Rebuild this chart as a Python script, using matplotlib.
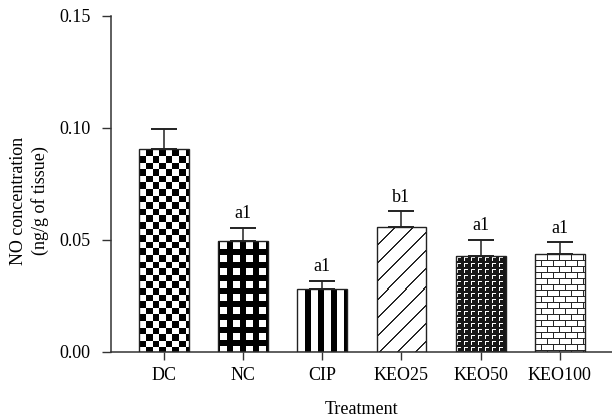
import numpy as np
import matplotlib
matplotlib.use("Agg")
import matplotlib.pyplot as plt

plt.rcParams['font.family'] = ['Liberation Serif', 'DejaVu Serif']

groups = ["DC", "NC", "CIP", "KEO25", "KEO50", "KEO100"]
means = [0.0905, 0.0494, 0.0281, 0.0560, 0.0427, 0.0437]
errors = [0.0092, 0.0061, 0.0036, 0.0069, 0.0073, 0.0052]
letters = ["", "a1", "a1", "b1", "a1", "a1"]
patterns = ["checker", "grid", "stripes", "diag", "gamma", "brick"]


def texture(kind, w, h):
    # 1 = black, 0 = white; row 0 is the top of the bar
    i, j = np.mgrid[0:h, 0:w]
    if kind == "checker":
        s = 6.6
        return ((np.floor(i / s) + np.floor(j / s)) % 2).astype(float)
    if kind == "grid":
        white = ((i - 1) % 13 < 7) & ((j - 2) % 13 < 7)
        return (~white).astype(float)
    if kind == "stripes":
        return (((j - 8) % 13 < 6) & (j >= 8)).astype(float)
    if kind == "diag":
        return ((i + j) % 18 < 2).astype(float) * 0.85
    if kind == "gamma":
        ci = i % 6
        cj = j % 7
        white = ((ci == 1) & (cj >= 1) & (cj <= 4)) | ((cj == 1) & (ci >= 1) & (ci <= 4))
        return (~white).astype(float) * 0.9
    if kind == "brick":
        row = i // 6
        mortar = (i % 6 == 0) | ((j + (row % 2) * 6) % 12 == 0)
        return mortar.astype(float) * 0.85
    return np.zeros((h, w))


fig = plt.figure(figsize=(6.12, 4.17), dpi=100)
ax = fig.add_axes([111 / 612, 1 - 352 / 417, 501 / 612, 336 / 417])

x = np.arange(len(groups))
ax.set_xlim(-0.67, 5.66)
ax.set_ylim(0, 0.15)

bars = ax.bar(x, means, width=0.63, facecolor="none", edgecolor="#222222",
              linewidth=1.0, zorder=3)

for bar, kind in zip(bars, patterns):
    x0, y0 = ax.transData.transform((bar.get_x(), 0))
    x1, y1 = ax.transData.transform((bar.get_x() + bar.get_width(), bar.get_height()))
    w = int(round(x1 - x0))
    h = int(round(y1 - y0))
    img = texture(kind, w, h)
    im = ax.imshow(img, cmap="gray_r", vmin=0, vmax=1, origin="upper",
                   extent=(bar.get_x(), bar.get_x() + bar.get_width(), 0, bar.get_height()),
                   interpolation="nearest", aspect="auto", zorder=2)
    im.set_clip_path(bar)

ax.errorbar(x, means, yerr=[np.zeros(len(means)), errors], fmt="none",
            ecolor="#222222", elinewidth=1.1, capsize=9.4, capthick=1.4, zorder=4)

for xi, m, e, lab in zip(x, means, errors, letters):
    if lab:
        ax.annotate(lab, (xi, m + e), xytext=(0, 4), textcoords="offset points",
                    ha="center", va="bottom", fontsize=13)

ax.set_xlim(-0.67, 5.66)
ax.set_ylim(0, 0.15)
ax.set_aspect("auto")
ax.set_xticks(x)
ax.set_xticklabels(groups)
ax.set_yticks([0.0, 0.05, 0.10, 0.15])
ax.set_yticklabels(["0.00", "0.05", "0.10", "0.15"])
ax.tick_params(axis="x", direction="out", length=6, width=1.0, color="#333333",
               labelsize=13, pad=5)
ax.tick_params(axis="y", direction="out", length=6.5, width=1.0, color="#333333",
               labelsize=13, pad=8)

for side in ["top", "right"]:
    ax.spines[side].set_visible(False)
for side in ["left", "bottom"]:
    ax.spines[side].set_color("#333333")
    ax.spines[side].set_linewidth(1.1)

ax.set_xlabel("Treatment", fontsize=13, labelpad=12)
ax.set_ylabel("NO concentration\n(ng/g of tissue)", fontsize=13, va="center",
              linespacing=1.3)
ax.yaxis.set_label_coords(-0.163, 0.45)

fig.savefig("out.png", dpi=100)
